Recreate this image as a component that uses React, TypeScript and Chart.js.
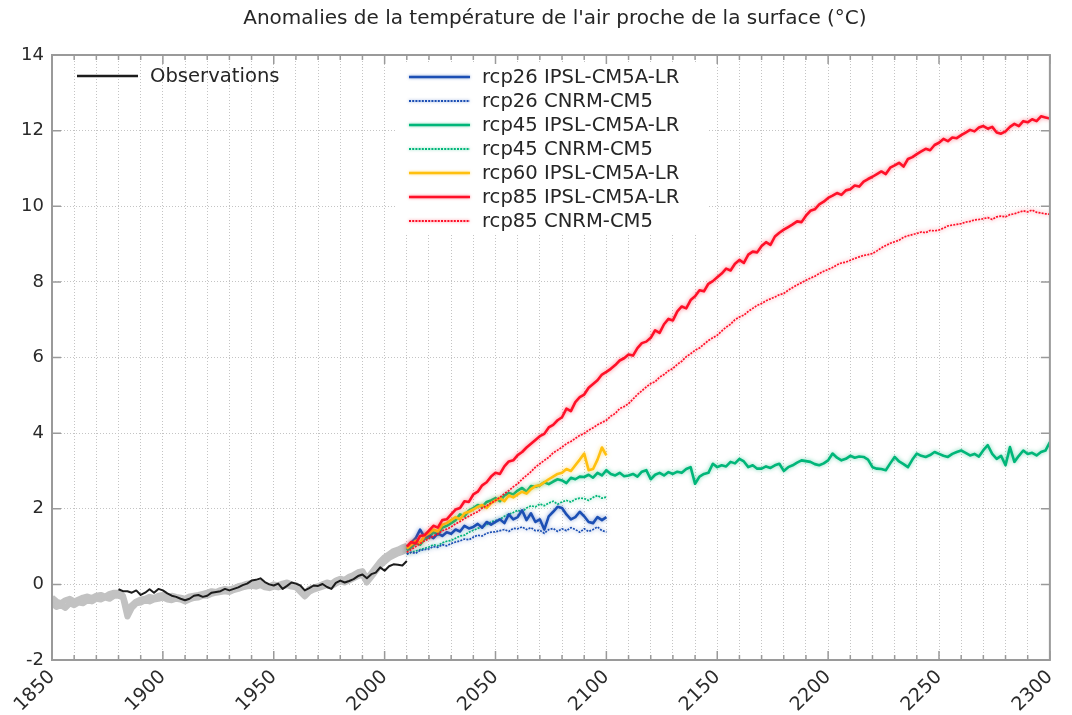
import React, { useEffect, useRef } from "react";
import { Chart, registerables } from "chart.js";

Chart.register(...registerables);

const TITLE = "Anomalies de la température de l'air proche de la surface (°C)";
const X_MIN = 1850;
const X_MAX = 2300;
const X_STEP = 10;
const X_LABEL_EVERY = 50;
const Y_MIN = -2;
const Y_MAX = 14;
const Y_STEP = 2;

// Historical model ensemble (grey), 1850-2010, every 2 years
const HIST_START = 1850;
const HIST_STEP = 2;
const histUpper = [
  -0.35, -0.45, -0.5, -0.42, -0.38,
  -0.45, -0.4, -0.35, -0.32, -0.36,
  -0.3, -0.28, -0.32, -0.25, -0.22,
  -0.22, -0.3, -0.7, -0.55, -0.45,
  -0.4, -0.38, -0.33, -0.36, -0.3,
  -0.28, -0.35, -0.3, -0.33, -0.35,
  -0.38, -0.32, -0.3, -0.28, -0.25,
  -0.22, -0.18, -0.2, -0.15, -0.12,
  -0.14, -0.1, -0.05, -0.02, 0.02,
  0.04, 0.0, 0.05, -0.02, -0.05,
  0.0, -0.02, 0.02, 0.05, 0.0,
  -0.02, -0.15, -0.25, -0.12, -0.08,
  -0.05, 0.0, 0.05, 0.02, 0.1,
  0.15, 0.12, 0.2, 0.25, 0.32,
  0.35, 0.15, 0.3, 0.45, 0.6,
  0.72, 0.8, 0.88, 0.92, 0.98,
  1.02,
];
const histLower = [
  -0.5, -0.6, -0.55, -0.62, -0.5,
  -0.55, -0.48, -0.5, -0.42, -0.45,
  -0.38, -0.4, -0.35, -0.38, -0.3,
  -0.3, -0.35, -0.85, -0.62, -0.5,
  -0.48, -0.42, -0.45, -0.4, -0.38,
  -0.35, -0.4, -0.42, -0.38, -0.4,
  -0.45, -0.4, -0.36, -0.35, -0.3,
  -0.3, -0.25, -0.22, -0.2, -0.18,
  -0.2, -0.15, -0.12, -0.08, -0.05,
  -0.04, -0.06, -0.02, -0.08, -0.1,
  -0.06, -0.08, -0.05, -0.02, -0.06,
  -0.08, -0.2, -0.32, -0.2, -0.14,
  -0.1, -0.06, -0.02, -0.05, 0.02,
  0.08, 0.05, 0.1, 0.16, 0.22,
  0.26, 0.05, 0.2, 0.35, 0.5,
  0.6, 0.7, 0.76, 0.82, 0.86,
  0.92,
];

// Observations, 1880-2010, every 2 years
const OBS_START = 1880;
const OBS_STEP = 2;
const observations = [
  -0.13, -0.18, -0.18, -0.22, -0.16,
  -0.28, -0.22, -0.13, -0.22, -0.12,
  -0.16, -0.24, -0.3, -0.33, -0.38,
  -0.42, -0.38, -0.3, -0.28, -0.33,
  -0.3, -0.22, -0.2, -0.18, -0.12,
  -0.16, -0.12, -0.08, -0.02, 0.02,
  0.1, 0.12, 0.16, 0.06, 0.0,
  -0.03, 0.02, -0.12, -0.04, 0.05,
  0.02, -0.03, -0.16, -0.1, -0.03,
  -0.04, 0.01, -0.07, -0.12, 0.04,
  0.1, 0.05, 0.09, 0.14, 0.22,
  0.26, 0.16, 0.27, 0.31, 0.45,
  0.36, 0.48, 0.53, 0.52, 0.5,
  0.62,
];

// Projections, from 2010, every 2 years
const PROJ_START = 2010;
const PROJ_STEP = 2;

const rcp26Ipsl = [
  0.95, 1.1, 1.22, 1.45, 1.25,
  1.3, 1.22, 1.35, 1.28, 1.38,
  1.34, 1.45, 1.4, 1.55, 1.48,
  1.52, 1.6, 1.5, 1.65, 1.58,
  1.65, 1.72, 1.62, 1.85, 1.72,
  1.78, 1.96, 1.7, 1.88, 1.65,
  1.72, 1.45, 1.8, 1.92, 2.05,
  2.02, 1.85, 1.72, 1.78, 1.92,
  1.8, 1.65, 1.62, 1.78, 1.7,
  1.78,
];
const rcp26Cnrm = [
  0.8, 0.85, 0.82, 0.9, 0.92,
  0.94, 1.0, 0.98, 1.05, 1.02,
  1.08, 1.12, 1.15, 1.2, 1.18,
  1.25, 1.3, 1.28, 1.35, 1.38,
  1.39, 1.42, 1.45, 1.4, 1.48,
  1.47, 1.52, 1.45, 1.5, 1.42,
  1.43, 1.35, 1.45, 1.48, 1.4,
  1.47, 1.42, 1.5, 1.45, 1.38,
  1.47, 1.4, 1.45, 1.52, 1.42,
  1.39,
];
const rcp45Ipsl = [
  0.9, 0.98, 1.1, 1.05, 1.2,
  1.25, 1.38, 1.32, 1.5, 1.55,
  1.62, 1.7, 1.85, 1.8, 1.95,
  2.02, 2.1, 2.05, 2.18, 2.22,
  2.28, 2.2, 2.35, 2.42, 2.38,
  2.48, 2.55, 2.45, 2.6, 2.58,
  2.62, 2.7, 2.65, 2.72, 2.78,
  2.75, 2.68, 2.82, 2.78, 2.85,
  2.84, 2.9, 2.82, 2.95, 2.88,
  3.02, 2.92, 2.88, 2.95, 2.86,
  2.88, 2.92, 2.85, 2.98, 3.02,
  2.78, 2.9, 2.95, 2.88, 2.97,
  2.92, 2.98, 2.95, 3.05, 3.1,
  2.66, 2.85, 2.92, 2.95, 3.19,
  3.1, 3.15, 3.12, 3.24, 3.2,
  3.32, 3.25, 3.1, 3.15, 3.06,
  3.06, 3.12, 3.08, 3.15, 3.19,
  3.0, 3.1, 3.15, 3.22, 3.28,
  3.26, 3.24, 3.18, 3.15, 3.2,
  3.28, 3.46, 3.35, 3.28, 3.32,
  3.4, 3.35, 3.38, 3.37, 3.3,
  3.1, 3.06, 3.05, 3.02, 3.2,
  3.37, 3.25, 3.18, 3.1, 3.3,
  3.46, 3.4, 3.37, 3.42, 3.5,
  3.45, 3.4, 3.37, 3.45, 3.5,
  3.54, 3.48, 3.41, 3.45, 3.38,
  3.55, 3.68, 3.45, 3.32, 3.4,
  3.15, 3.63, 3.24, 3.4, 3.54,
  3.45, 3.48, 3.41, 3.5, 3.54,
  3.76,
];
const rcp45Cnrm = [
  0.8, 0.85, 0.88, 0.92, 0.95,
  0.99, 1.05, 1.02, 1.1, 1.14,
  1.16, 1.22, 1.28, 1.3, 1.38,
  1.43, 1.48, 1.52, 1.58, 1.65,
  1.69, 1.72, 1.8, 1.85, 1.9,
  1.96, 1.92, 2.02, 2.08, 2.05,
  2.13, 2.08, 2.15, 2.2, 2.12,
  2.18, 2.22, 2.18, 2.25, 2.28,
  2.27, 2.22, 2.3, 2.35, 2.28,
  2.31,
];
const rcp60Ipsl = [
  0.95, 1.05, 1.15, 1.1, 1.28,
  1.35, 1.45, 1.4, 1.58, 1.62,
  1.7, 1.78, 1.72, 1.88, 1.92,
  1.98, 2.05, 2.1, 2.02, 2.15,
  2.22, 2.28, 2.2, 2.35, 2.3,
  2.38, 2.45, 2.4, 2.52, 2.6,
  2.62, 2.7, 2.78, 2.85, 2.92,
  2.95, 3.05, 3.0, 3.15, 3.3,
  3.46, 3.02, 3.05, 3.3, 3.62,
  3.41,
];
const rcp85Ipsl = [
  1.0, 1.12, 1.08, 1.28, 1.3,
  1.42, 1.55, 1.5, 1.7, 1.72,
  1.85, 1.98, 2.02, 2.2, 2.18,
  2.38, 2.45, 2.62, 2.7, 2.85,
  2.95, 2.92, 3.12, 3.25, 3.28,
  3.42, 3.5, 3.62, 3.72, 3.82,
  3.92, 3.98, 4.15, 4.22, 4.34,
  4.42, 4.65, 4.58, 4.82, 4.95,
  5.02, 5.2, 5.3, 5.4, 5.55,
  5.62, 5.7, 5.8, 5.92, 5.98,
  6.08, 6.05, 6.25, 6.38, 6.42,
  6.52, 6.72, 6.65, 6.88, 7.02,
  6.98, 7.22, 7.35, 7.3, 7.52,
  7.62, 7.78, 7.75, 7.95, 8.02,
  8.12, 8.22, 8.35, 8.3, 8.48,
  8.58, 8.5, 8.72, 8.8, 8.78,
  8.95, 9.05, 8.98, 9.2, 9.3,
  9.38, 9.45, 9.52, 9.6, 9.58,
  9.75, 9.88, 9.92, 10.05, 10.12,
  10.22, 10.28, 10.35, 10.3, 10.42,
  10.45, 10.55, 10.52, 10.65, 10.72,
  10.78, 10.85, 10.92, 10.85, 11.02,
  11.08, 11.15, 11.05, 11.25, 11.3,
  11.38, 11.45, 11.52, 11.48, 11.62,
  11.68, 11.78, 11.72, 11.82, 11.8,
  11.88, 11.95, 12.02, 11.98, 12.08,
  12.12, 12.05, 12.1, 11.95, 11.92,
  11.98, 12.1, 12.18, 12.12, 12.25,
  12.22, 12.3, 12.25, 12.38, 12.35,
  12.32,
];
const rcp85Cnrm = [
  0.85, 0.92, 1.0, 1.08, 1.15,
  1.21, 1.28, 1.33, 1.42, 1.46,
  1.52, 1.6, 1.66, 1.74, 1.8,
  1.87, 1.92, 2.02, 2.08, 2.15,
  2.22, 2.3, 2.4, 2.48, 2.58,
  2.66, 2.78, 2.88, 2.98, 3.1,
  3.19, 3.28, 3.36, 3.48, 3.55,
  3.63, 3.72, 3.78, 3.86, 3.94,
  3.99, 4.08, 4.14, 4.22, 4.28,
  4.34, 4.45, 4.52, 4.65, 4.7,
  4.78, 4.9, 5.02, 5.12, 5.22,
  5.31, 5.36, 5.48, 5.55, 5.65,
  5.71, 5.82, 5.9, 6.02, 6.1,
  6.19, 6.25, 6.35, 6.45, 6.52,
  6.59, 6.7, 6.8, 6.88, 7.0,
  7.07, 7.12, 7.22, 7.3, 7.38,
  7.43, 7.5, 7.55, 7.6, 7.66,
  7.69, 7.78, 7.85, 7.92, 7.98,
  8.04, 8.1, 8.15, 8.22, 8.28,
  8.33, 8.38, 8.45, 8.5, 8.52,
  8.57, 8.62, 8.66, 8.7, 8.72,
  8.75, 8.82, 8.9, 8.96, 9.02,
  9.06, 9.1, 9.18, 9.22, 9.25,
  9.28, 9.32, 9.3, 9.36, 9.35,
  9.37, 9.42, 9.48, 9.5, 9.52,
  9.54, 9.58, 9.6, 9.64, 9.65,
  9.67, 9.7, 9.65, 9.72, 9.74,
  9.72, 9.78, 9.8, 9.84, 9.88,
  9.85, 9.9, 9.84, 9.82, 9.8,
  9.79,
];

const OBS_LABEL = "Observations";
const BOX_LABELS = [
  "rcp26 IPSL-CM5A-LR",
  "rcp26 CNRM-CM5",
  "rcp45 IPSL-CM5A-LR",
  "rcp45 CNRM-CM5",
  "rcp60 IPSL-CM5A-LR",
  "rcp85 IPSL-CM5A-LR",
  "rcp85 CNRM-CM5",
];

const BLUE = "#1c4fb4";
const GREEN = "#00b679";
const ORANGE = "#ffc00f";
const RED = "#ff1028";
const BLACK = "#1c1c1c";
const GREY = "#c2c2c2";
const FONT = "'DejaVu Sans', sans-serif";

const toPoints = (start: number, step: number, vals: number[]) =>
  vals.map((v, i) => ({ x: start + i * step, y: v }));

const hexA = (hex: string, a: number) => {
  const n = parseInt(hex.slice(1), 16);
  return `rgba(${(n >> 16) & 255},${(n >> 8) & 255},${n & 255},${a})`;
};

const DOT = [2, 1.2];

export default function App() {
  const ref = useRef<HTMLCanvasElement | null>(null);

  useEffect(() => {
    if (!ref.current) return;
    const proj = (
      label: string,
      vals: number[],
      color: string,
      dotted: boolean,
      order: number
    ) => ({
      label,
      data: toPoints(PROJ_START, PROJ_STEP, vals),
      borderColor: color,
      borderWidth: dotted ? 1.7 : 2.6,
      borderDash: dotted ? DOT : [],
      glow: hexA(color, 0.55),
      legendBox: true,
      order,
    });

    const datasets: any[] = [
      {
        label: "hist-a",
        data: toPoints(HIST_START, HIST_STEP, histUpper),
        borderColor: GREY,
        borderWidth: 6,
        order: 20,
      },
      {
        label: "hist-b",
        data: toPoints(HIST_START, HIST_STEP, histLower),
        borderColor: GREY,
        borderWidth: 6,
        order: 21,
      },
      {
        label: OBS_LABEL,
        data: toPoints(OBS_START, OBS_STEP, observations),
        borderColor: BLACK,
        borderWidth: 2,
        order: 10,
        legendObs: true,
      },
      proj(BOX_LABELS[0], rcp26Ipsl, BLUE, false, 3),
      proj(BOX_LABELS[1], rcp26Cnrm, BLUE, true, 4),
      proj(BOX_LABELS[2], rcp45Ipsl, GREEN, false, 5),
      proj(BOX_LABELS[3], rcp45Cnrm, GREEN, true, 6),
      proj(BOX_LABELS[4], rcp60Ipsl, ORANGE, false, 2),
      proj(BOX_LABELS[5], rcp85Ipsl, RED, false, 0),
      proj(BOX_LABELS[6], rcp85Cnrm, RED, true, 1),
    ];
    datasets.forEach((d) => {
      d.pointRadius = 0;
      d.tension = 0;
      d.fill = false;
      d.borderJoinStyle = "round";
    });

    const BOX = { x1: 395, x2: 707, y1: 63, y2: 235 };

    const glowPlugin = {
      id: "glow",
      beforeDatasetDraw(chart: any, args: any) {
        const ds = chart.data.datasets[args.index];
        chart.ctx.save();
        if (ds.glow) {
          chart.ctx.shadowColor = ds.glow;
          chart.ctx.shadowBlur = 4;
        }
      },
      afterDatasetDraw(chart: any) {
        chart.ctx.restore();
      },
    };

    const decorPlugin = {
      id: "decor",
      beforeDatasetsDraw(chart: any) {
        const ctx = chart.ctx;
        ctx.save();
        ctx.fillStyle = "#ffffff";
        ctx.fillRect(BOX.x1, BOX.y1, BOX.x2 - BOX.x1, BOX.y2 - BOX.y1);
        ctx.restore();
      },
      afterDatasetsDraw(chart: any) {
        const ctx = chart.ctx;
        const a = chart.chartArea;
        const xs = chart.scales.x;
        const ys = chart.scales.y;
        ctx.save();
        // frame
        ctx.strokeStyle = "#9a9a9a";
        ctx.lineWidth = 2;
        ctx.setLineDash([]);
        ctx.strokeRect(a.left, a.top, a.right - a.left, a.bottom - a.top);
        // ticks
        ctx.lineWidth = 1.5;
        for (let v = X_MIN; v <= X_MAX; v += X_STEP) {
          const px = xs.getPixelForValue(v);
          const len = v % X_LABEL_EVERY === 0 ? 9 : 5;
          ctx.beginPath();
          ctx.moveTo(px, a.bottom);
          ctx.lineTo(px, a.bottom - len);
          ctx.moveTo(px, a.top);
          ctx.lineTo(px, a.top + len);
          ctx.stroke();
        }
        for (let v = Y_MIN; v <= Y_MAX; v += Y_STEP) {
          const py = ys.getPixelForValue(v);
          ctx.beginPath();
          ctx.moveTo(a.left, py);
          ctx.lineTo(a.left + 9, py);
          ctx.moveTo(a.right, py);
          ctx.lineTo(a.right - 9, py);
          ctx.stroke();
        }
        // title
        ctx.fillStyle = "#262626";
        ctx.font = `20px ${FONT}`;
        ctx.textAlign = "center";
        ctx.textBaseline = "middle";
        ctx.fillText(TITLE, (a.left + a.right) / 2 + 4, 19);
        // legends
        ctx.font = `19.6px ${FONT}`;
        ctx.textAlign = "left";
        const drawEntry = (ds: any, x1: number, x2: number, tx: number, y: number) => {
          ctx.save();
          ctx.strokeStyle = ds.borderColor;
          ctx.lineWidth = ds.borderDash && ds.borderDash.length ? 2 : 2.6;
          ctx.setLineDash(ds.borderDash || []);
          if (ds.glow) {
            ctx.shadowColor = ds.glow;
            ctx.shadowBlur = 3;
          }
          ctx.beginPath();
          ctx.moveTo(x1, y);
          ctx.lineTo(x2, y);
          ctx.stroke();
          ctx.restore();
          ctx.fillStyle = "#262626";
          ctx.fillText(ds.label, tx, y + 1);
        };
        const datasetsAll = chart.data.datasets;
        const obs = datasetsAll.find((d: any) => d.legendObs);
        if (obs) drawEntry(obs, 77, 138, 150, 76);
        const boxItems = datasetsAll.filter((d: any) => d.legendBox);
        boxItems.forEach((d: any, i: number) => {
          drawEntry(d, 409, 470, 482, 77 + i * 24);
        });
        ctx.restore();
      },
    };

    const tickFont = { family: FONT, size: 18 };
    const chart = new Chart(ref.current, {
      type: "line",
      data: { datasets },
      plugins: [glowPlugin, decorPlugin],
      options: {
        animation: false,
        responsive: false,
        maintainAspectRatio: false,
        layout: { padding: { left: 0, right: 20, top: 55, bottom: 0 } },
        plugins: {
          legend: { display: false },
          tooltip: { enabled: false },
          title: { display: false },
        },
        scales: {
          x: {
            type: "linear",
            min: X_MIN,
            max: X_MAX,
            ticks: {
              stepSize: X_STEP,
              autoSkip: false,
              maxRotation: 45,
              minRotation: 45,
              padding: 6,
              color: "#2a2a2a",
              font: { family: FONT, size: 19 },
              callback: (v: any) => (Number(v) % X_LABEL_EVERY === 0 ? String(v) : ""),
            },
            grid: { color: "#c4c4c4", lineWidth: 1, drawTicks: false },
            border: { display: false, dash: [1, 2] },
            afterFit: (s: any) => {
              s.height = 55;
            },
          },
          y: {
            type: "linear",
            min: Y_MIN,
            max: Y_MAX,
            ticks: {
              stepSize: Y_STEP,
              padding: 8,
              color: "#2a2a2a",
              font: tickFont,
            },
            grid: { color: "#c4c4c4", lineWidth: 1, drawTicks: false },
            border: { display: false, dash: [1, 2] },
            afterFit: (s: any) => {
              s.width = 52;
            },
          },
        },
      } as any,
    });
    return () => chart.destroy();
  }, []);

  return (
    <div style={{ position: "fixed", left: 0, top: 0, width: 1072, height: 715, background: "#fff" }}>
      <canvas ref={ref} width={1072} height={715} style={{ width: 1072, height: 715 }} />
    </div>
  );
}
